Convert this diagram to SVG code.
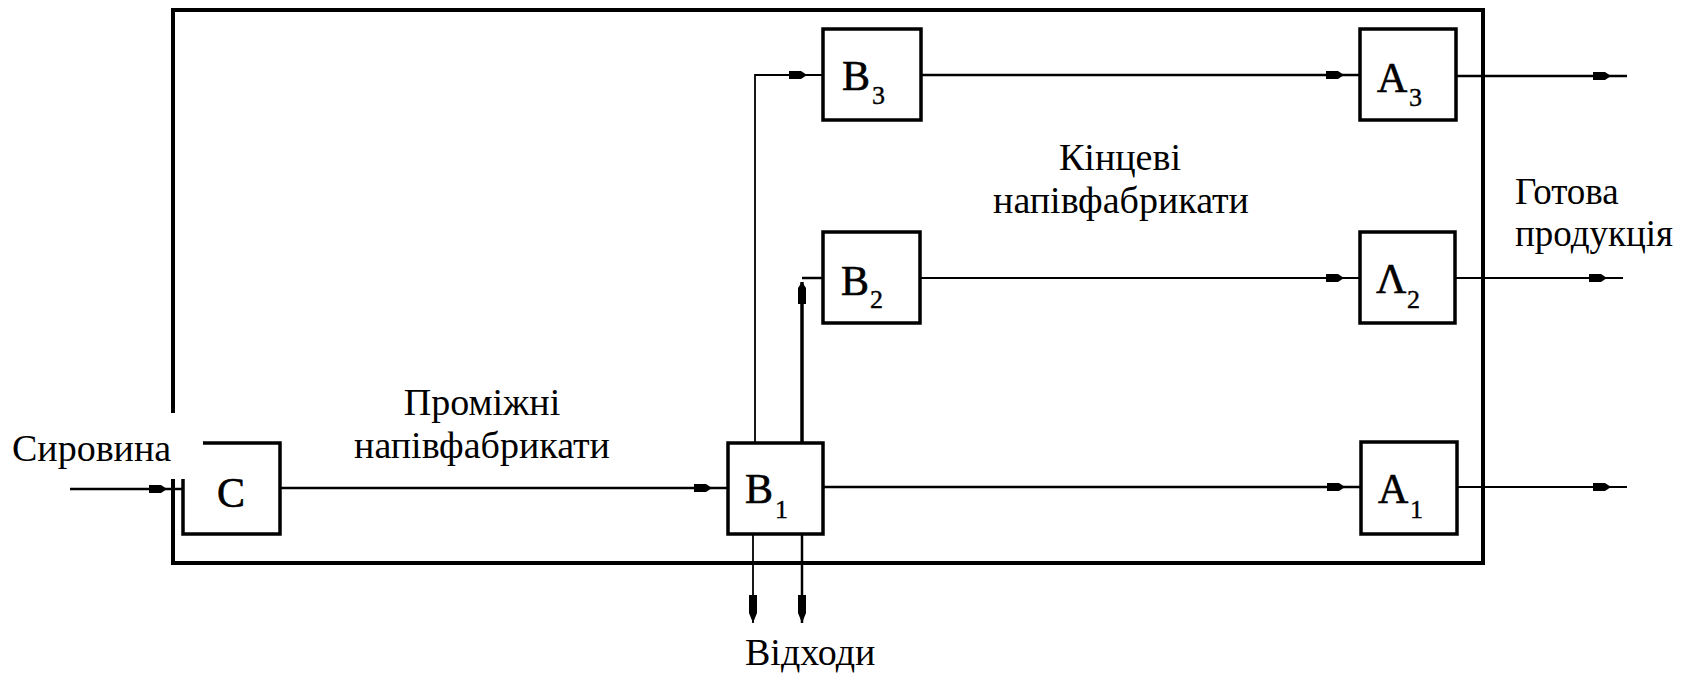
<svg xmlns="http://www.w3.org/2000/svg" width="1686" height="674" viewBox="0 0 1686 674">
<style>
.frame{fill:none;stroke:#000;stroke-width:4}
.box{fill:#fff;stroke:#000;stroke-width:3.5}
.lbl{font-size:38px;fill:#000}
.blk{font-size:42px;fill:#000;stroke:#000;stroke-width:0.6}
.sub{font-size:26px;fill:#000;stroke:#000;stroke-width:0.4}
.ln{fill:none;stroke:#000;stroke-width:2.5}
.thin{fill:none;stroke:#000;stroke-width:1.8}
.thick{fill:none;stroke:#000;stroke-width:3.5}
</style>
<defs>
<marker id="ah" markerUnits="userSpaceOnUse" viewBox="0 -6 40 12" markerWidth="40" markerHeight="12" refX="34" refY="0" orient="auto">
<path d="M0,-4 L12,-4 L18,0 L12,4 L0,4 Z" fill="#000"/>
</marker>
<marker id="ahd" markerUnits="userSpaceOnUse" viewBox="0 -6 30 12" markerWidth="30" markerHeight="12" refX="28" refY="0" orient="auto">
<path d="M0,-4 L18,-4 L28,0 L18,4 L0,4 Z" fill="#000"/>
</marker>
<marker id="ahu" markerUnits="userSpaceOnUse" viewBox="0 -6 24 12" markerWidth="24" markerHeight="12" refX="22" refY="0" orient="auto">
<path d="M0,-4 L16,-4 L22,0 L16,4 L0,4 Z" fill="#000"/>
</marker>
</defs>

<g id="frame">
<rect class="frame" x="173" y="10" width="1310" height="553"/>
</g>

<g id="connectors">
<path class="ln" d="M70,489 H183" marker-end="url(#ah)"/>
<path class="ln" d="M280,488 H728" marker-end="url(#ah)"/>
<path class="thin" d="M755,443 V75 H823" marker-end="url(#ah)"/>
<path class="thick" d="M802,443 V282" marker-end="url(#ahu)"/>
<path class="ln" d="M802,278 H823"/>
<path class="ln" d="M921,75 H1360" marker-end="url(#ah)"/>
<path class="thin" d="M920,278 H1360" marker-end="url(#ah)"/>
<path class="ln" d="M823,487 H1361" marker-end="url(#ah)"/>
<path class="ln" d="M1456,76 H1627" marker-end="url(#ah)"/>
<path class="thin" d="M1455,278 H1623" marker-end="url(#ah)"/>
<path class="thin" d="M1457,487 H1627" marker-end="url(#ah)"/>
<path class="thin" d="M753,534 V623" marker-end="url(#ahd)"/>
<path class="ln" d="M802,534 V623" marker-end="url(#ahd)"/>
</g>

<g font-family="Liberation Serif, DejaVu Serif, Times New Roman, serif">
<g id="node-C">
<rect class="box" x="183" y="443" width="97" height="91"/>
<text class="blk" x="231" y="507" text-anchor="middle">C</text>
</g>
<g id="node-B1">
<rect class="box" x="728" y="443" width="95" height="91"/>
<text class="blk" x="745" y="503">B</text>
<text class="sub" x="775" y="518">1</text>
</g>
<g id="node-B2">
<rect class="box" x="823" y="232" width="97" height="91"/>
<text class="blk" x="841" y="295">B</text>
<text class="sub" x="870" y="308">2</text>
</g>
<g id="node-B3">
<rect class="box" x="823" y="29" width="98" height="91"/>
<text class="blk" x="842" y="90">B</text>
<text class="sub" x="872" y="104">3</text>
</g>
<g id="node-A3">
<rect class="box" x="1360" y="29" width="96" height="91"/>
<text class="blk" x="1377" y="92">A</text>
<text class="sub" x="1409" y="106">3</text>
</g>
<g id="node-A2">
<rect class="box" x="1360" y="232" width="95" height="91"/>
<text class="blk" x="1376" y="293">Λ</text>
<text class="sub" x="1407" y="308">2</text>
</g>
<g id="node-A1">
<rect class="box" x="1361" y="442" width="96" height="92"/>
<text class="blk" x="1378" y="503">A</text>
<text class="sub" x="1410" y="518">1</text>
</g>

<g id="label-input">
<rect x="0" y="413" width="203" height="66" fill="#fff"/>
<text class="lbl" x="12" y="461">Сировина</text>
</g>
<g id="label-intermediate">
<text class="lbl" x="482" y="415" text-anchor="middle">Проміжні</text>
<text class="lbl" x="482" y="458" text-anchor="middle">напівфабрикати</text>
</g>
<g id="label-final">
<text class="lbl" x="1120" y="170" text-anchor="middle">Кінцеві</text>
<text class="lbl" x="1121" y="213" text-anchor="middle">напівфабрикати</text>
</g>
<g id="label-product">
<text class="lbl" x="1515" y="204" style="font-size:37px">Готова</text>
<text class="lbl" x="1515" y="246" style="font-size:37px">продукція</text>
</g>
<g id="label-waste">
<text class="lbl" x="745" y="665">Відходи</text>
</g>
</g>
</svg>
